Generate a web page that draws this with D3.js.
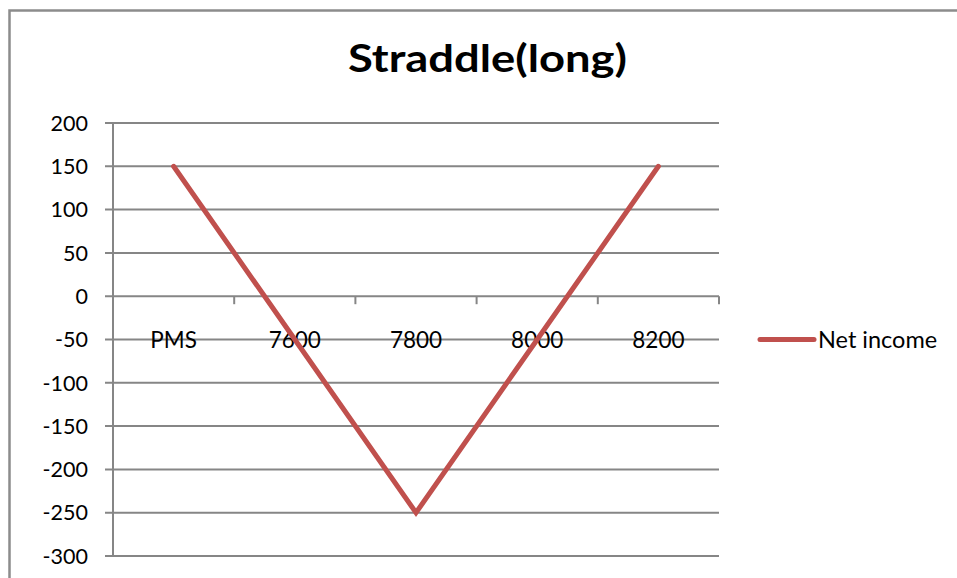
<!DOCTYPE html>
<html>
<head>
<meta charset="utf-8">
<script src="https://cdn.jsdelivr.net/npm/d3@7"></script>
<style>
  html, body { margin: 0; padding: 0; background: #fff; }
  svg { display: block; font-family: Lato, "Open Sans", sans-serif; }
</style>
</head>
<body>
<svg id="chart" width="957" height="578"></svg>
<script>
// Long straddle payoff by price level
const categories = ["PMS", "7600", "7800", "8000", "8200"];
const netIncome = [150, -50, -250, -50, 150];
const yTicks = [200, 150, 100, 50, 0, -50, -100, -150, -200, -250, -300];
const seriesName = "Net income";
const chartTitle = "Straddle(long)";

const svg = d3.select("#chart");
const gridColor = "#868686";
const lineColor = "#C0504D";

// Chart frame
svg.append("path")
  .attr("d", "M9.5,578 L9.5,10.5 L957,10.5")
  .attr("fill", "none")
  .attr("stroke", "#8c8c8c")
  .attr("stroke-width", 2.5);

const plot = { left: 113, right: 719, top: 123, bottom: 556 };

const x = d3.scaleBand()
  .domain(categories)
  .range([plot.left, plot.right])
  .paddingInner(0).paddingOuter(0);

const y = d3.scaleLinear()
  .domain([-300, 200])
  .range([plot.bottom, plot.top]);

// Horizontal gridlines
svg.append("g")
  .selectAll("line")
  .data(yTicks)
  .join("line")
  .attr("x1", plot.left - 8)
  .attr("x2", plot.right)
  .attr("y1", d => y(d))
  .attr("y2", d => y(d))
  .attr("stroke", gridColor)
  .attr("stroke-width", 2);

// Value axis
svg.append("line")
  .attr("x1", plot.left).attr("x2", plot.left)
  .attr("y1", plot.top).attr("y2", plot.bottom)
  .attr("stroke", gridColor)
  .attr("stroke-width", 2);

svg.append("g")
  .selectAll("text")
  .data(yTicks)
  .join("text")
  .attr("x", 88)
  .attr("y", d => y(d))
  .attr("dy", "0.36em")
  .attr("text-anchor", "end")
  .attr("font-size", 21.5)
  .attr("fill", "#000")
  .text(d => d);

// Category axis sits on zero
const y0 = y(0);
const boundaries = categories.map(c => x(c)).concat([x(categories[categories.length - 1]) + x.bandwidth()]);
svg.append("g")
  .selectAll("line")
  .data(boundaries.slice(1))
  .join("line")
  .attr("x1", d => d).attr("x2", d => d)
  .attr("y1", y0).attr("y2", y0 + 8)
  .attr("stroke", gridColor)
  .attr("stroke-width", 2);

svg.append("g")
  .selectAll("text")
  .data(categories)
  .join("text")
  .attr("x", d => x(d) + x.bandwidth() / 2)
  .attr("y", y(-50))
  .attr("dy", "0.36em")
  .attr("text-anchor", "middle")
  .attr("font-size", 22.5)
  .attr("fill", "#000")
  .text(d => d);

// Series line
const line = d3.line()
  .x((d, i) => x(categories[i]) + x.bandwidth() / 2)
  .y(d => y(d));

svg.append("path")
  .datum(netIncome)
  .attr("d", line)
  .attr("fill", "none")
  .attr("stroke", lineColor)
  .attr("stroke-width", 5)
  .attr("stroke-linejoin", "miter")
  .attr("stroke-linecap", "round");

// Title
svg.append("text")
  .attr("x", 487.5)
  .attr("y", 72)
  .attr("text-anchor", "middle")
  .attr("font-size", 38)
  .attr("font-weight", "bold")
  .attr("textLength", 279)
  .attr("lengthAdjust", "spacingAndGlyphs")
  .attr("fill", "#000")
  .text(chartTitle);

// Legend
const legend = svg.append("g").attr("transform", `translate(760, ${y(-50)})`);
legend.append("line")
  .attr("x1", 0).attr("x2", 54)
  .attr("y1", 0).attr("y2", 0)
  .attr("stroke", lineColor)
  .attr("stroke-width", 5)
  .attr("stroke-linecap", "round");
legend.append("text")
  .attr("x", 58)
  .attr("y", 0)
  .attr("dy", "0.36em")
  .attr("font-size", 23.5)
  .attr("fill", "#000")
  .text(seriesName);
</script>
</body>
</html>
